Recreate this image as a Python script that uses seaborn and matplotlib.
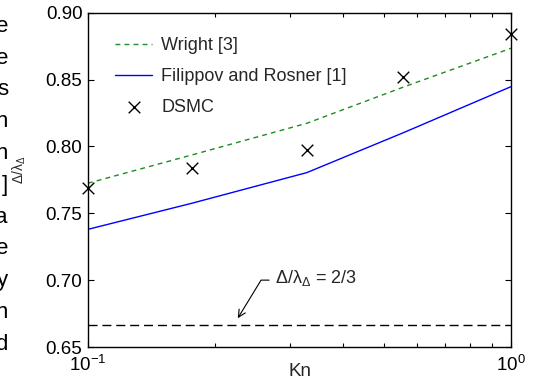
import matplotlib
matplotlib.use("Agg")
import matplotlib.pyplot as plt
import matplotlib.ticker as mticker
import seaborn as sns
import numpy as np
import pandas as pd

# ---- data ----
kn = [0.1, 0.176, 0.329, 0.557, 1.0]
wright = [0.7725, 0.7936, 0.8173, 0.8444, 0.8734]
filippov = [0.738, 0.7575, 0.7804, 0.8103, 0.8447]
dsmc = [0.769, 0.7836, 0.7973, 0.852, 0.884]
limit_value = 2 / 3
y_ticks = [0.65, 0.70, 0.75, 0.80, 0.85, 0.90]
side_letters = ["e", "e", "s", "n", "n", "]", "a", "e", "y", "n", "d"]

sns.set_theme(style="white")
plt.rcParams["font.family"] = ["Liberation Sans", "DejaVu Sans"]
plt.rcParams["mathtext.fontset"] = "custom"
plt.rcParams["mathtext.rm"] = "Liberation Sans"
plt.rcParams["mathtext.it"] = "Liberation Sans"
plt.rcParams["mathtext.default"] = "regular"

W, H = 538, 389
fig = plt.figure(figsize=(W / 100, H / 100), dpi=100)
ax = fig.add_axes([88 / W, 1 - 347 / H, (511 - 88) / W, (347 - 12.7) / H])

df_w = pd.DataFrame({"Kn": kn, "v": wright})
df_f = pd.DataFrame({"Kn": kn, "v": filippov})
df_d = pd.DataFrame({"Kn": kn, "v": dsmc})

sns.lineplot(data=df_w, x="Kn", y="v", ax=ax, color="#1f8c1f", lw=1.0,
             linestyle=(0, (3.5, 3.0)), label="Wright [3]")
sns.lineplot(data=df_f, x="Kn", y="v", ax=ax, color="#0000ff", lw=1.0,
             label="Filippov and Rosner [1]")
sns.scatterplot(data=df_d, x="Kn", y="v", ax=ax, marker="x", color="black",
                s=70, linewidth=1.0, label="DSMC", zorder=5, clip_on=False)
ax.axhline(limit_value, color="black", lw=1.0, linestyle=(0, (6.5, 3.5)))

ax.set_xscale("log")
ax.set_xlim(0.1, 1.0)
ax.set_ylim(0.65, 0.90)
ax.set_yticks(y_ticks)
ax.set_yticklabels([f"{t:.2f}" for t in y_ticks])
ax.xaxis.set_minor_formatter(mticker.NullFormatter())

for sp in ax.spines.values():
    sp.set_color("black")
    sp.set_linewidth(1.0)
ax.tick_params(which="both", direction="in", top=True, right=True,
               left=True, bottom=True, labelsize=13.5, colors="black",
               length=4, width=0.8, pad=4)
ax.tick_params(axis="x", which="both", pad=6)
ax.tick_params(which="minor", length=3)

ax.set_xlabel("Kn", fontsize=13.5)
ax.xaxis.set_label_coords(0.5, -0.048)
ax.set_ylabel(r"$\mathregular{Δ/λ_Δ}$", fontsize=10)
ax.yaxis.set_label_coords(-0.142, 0.53)

leg = ax.legend(loc="upper left", frameon=False, fontsize=13,
                bbox_to_anchor=(0.047, 0.948), handlelength=2.05,
                handletextpad=0.5, labelspacing=0.77, borderaxespad=0.0)

ax.annotate(r"$\mathregular{Δ/λ_Δ}$ = 2/3", xy=(0.226, 0.6715),
            xytext=(0.277, 0.7015), fontsize=13, va="center", ha="left",
            arrowprops=dict(arrowstyle="->", color="black", lw=0.8,
                            connectionstyle="angle,angleA=0,angleB=58.6,rad=0",
                            relpos=(0, 0.4), shrinkB=0))

for i, ch in enumerate(side_letters):
    fig.text(8 / W, 1 - (31.7 + 31.8 * i) / H, ch, ha="right",
             va="baseline", fontsize=16, color="black")

fig.savefig("out.png", dpi=100)
